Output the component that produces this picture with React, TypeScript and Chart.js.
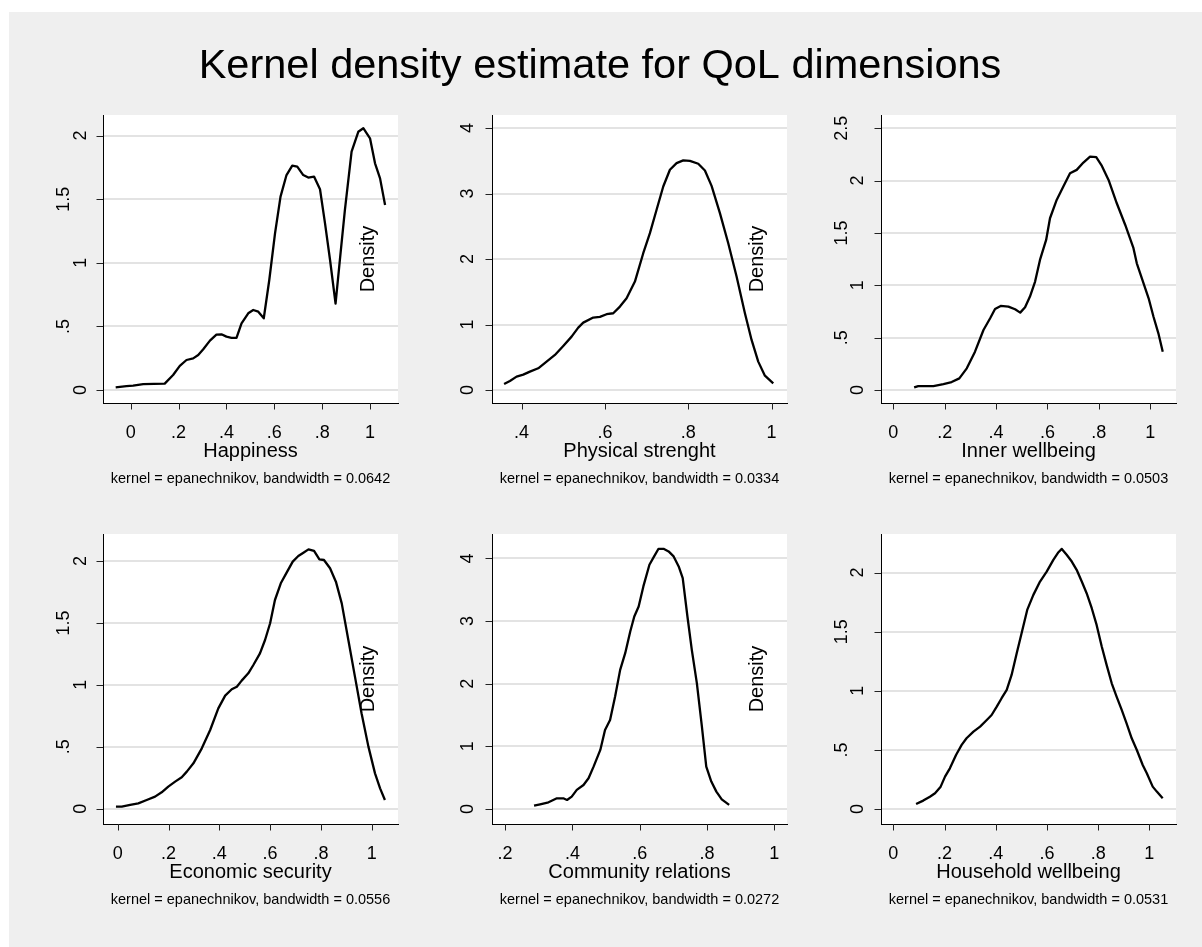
import React, { useEffect, useRef } from "react";
import { Chart, registerables } from "chart.js";

Chart.register(...registerables);

// ---------------- DATA ----------------
const happinessX = [-0.063, -0.018, 0.01, 0.052, 0.142, 0.177, 0.205, 0.233, 0.261, 0.282, 0.303, 0.331, 0.358, 0.379, 0.4, 0.421, 0.442, 0.463, 0.491, 0.512, 0.533, 0.556, 0.579, 0.603, 0.626, 0.651, 0.675, 0.696, 0.721, 0.742, 0.766, 0.791, 0.812, 0.833, 0.856, 0.874, 0.895, 0.923, 0.951, 0.972, 1.0, 1.021, 1.042, 1.063];
const happinessY = [0.021, 0.031, 0.034, 0.047, 0.05, 0.118, 0.19, 0.236, 0.249, 0.275, 0.32, 0.388, 0.435, 0.438, 0.42, 0.41, 0.41, 0.524, 0.603, 0.629, 0.616, 0.564, 0.865, 1.232, 1.52, 1.69, 1.764, 1.756, 1.69, 1.67, 1.678, 1.578, 1.31, 1.022, 0.68, 1.022, 1.415, 1.874, 2.03, 2.058, 1.979, 1.782, 1.664, 1.455];

const physicalX = [0.358, 0.372, 0.388, 0.404, 0.42, 0.44, 0.46, 0.48, 0.5, 0.52, 0.536, 0.548, 0.572, 0.588, 0.604, 0.62, 0.636, 0.652, 0.672, 0.692, 0.708, 0.724, 0.74, 0.756, 0.772, 0.788, 0.804, 0.824, 0.84, 0.856, 0.876, 0.896, 0.916, 0.936, 0.952, 0.968, 0.984, 1.004];
const physicalY = [0.092, 0.138, 0.204, 0.234, 0.28, 0.331, 0.433, 0.535, 0.673, 0.815, 0.953, 1.029, 1.106, 1.116, 1.157, 1.172, 1.274, 1.401, 1.656, 2.089, 2.395, 2.752, 3.108, 3.363, 3.465, 3.506, 3.5, 3.455, 3.353, 3.118, 2.701, 2.242, 1.732, 1.172, 0.764, 0.433, 0.219, 0.102];

const innerX = [0.081, 0.097, 0.156, 0.195, 0.227, 0.257, 0.286, 0.318, 0.351, 0.377, 0.396, 0.418, 0.448, 0.474, 0.494, 0.513, 0.532, 0.552, 0.571, 0.595, 0.61, 0.636, 0.662, 0.688, 0.714, 0.74, 0.766, 0.79, 0.812, 0.838, 0.87, 0.903, 0.935, 0.948, 0.994, 1.013, 1.032, 1.049];
const innerY = [0.025, 0.038, 0.038, 0.057, 0.076, 0.111, 0.207, 0.366, 0.573, 0.685, 0.774, 0.803, 0.796, 0.771, 0.739, 0.79, 0.892, 1.035, 1.242, 1.433, 1.64, 1.815, 1.943, 2.07, 2.102, 2.172, 2.229, 2.223, 2.14, 2.006, 1.783, 1.576, 1.354, 1.21, 0.876, 0.7, 0.541, 0.366];

const economicX = [-0.007, 0.016, 0.049, 0.081, 0.114, 0.147, 0.173, 0.199, 0.226, 0.252, 0.272, 0.298, 0.331, 0.364, 0.396, 0.423, 0.449, 0.469, 0.488, 0.514, 0.534, 0.56, 0.58, 0.6, 0.619, 0.642, 0.665, 0.689, 0.711, 0.731, 0.751, 0.773, 0.794, 0.812, 0.836, 0.859, 0.882, 0.908, 0.934, 0.96, 0.987, 1.013, 1.033, 1.052];
const economicY = [0.016, 0.016, 0.03, 0.043, 0.07, 0.097, 0.132, 0.178, 0.218, 0.253, 0.299, 0.366, 0.487, 0.635, 0.81, 0.913, 0.964, 0.985, 1.034, 1.093, 1.16, 1.254, 1.362, 1.497, 1.685, 1.82, 1.906, 1.995, 2.04, 2.067, 2.094, 2.081, 2.013, 2.008, 1.941, 1.833, 1.658, 1.362, 1.066, 0.77, 0.501, 0.285, 0.164, 0.07];

const communityX = [0.286, 0.304, 0.329, 0.354, 0.373, 0.384, 0.398, 0.413, 0.433, 0.448, 0.463, 0.483, 0.497, 0.512, 0.527, 0.542, 0.557, 0.572, 0.584, 0.597, 0.611, 0.629, 0.643, 0.656, 0.671, 0.686, 0.701, 0.716, 0.728, 0.742, 0.755, 0.77, 0.785, 0.798, 0.813, 0.828, 0.844, 0.866];
const communityY = [0.053, 0.075, 0.107, 0.17, 0.17, 0.144, 0.197, 0.304, 0.383, 0.49, 0.676, 0.943, 1.262, 1.422, 1.795, 2.221, 2.487, 2.834, 3.073, 3.233, 3.553, 3.899, 4.032, 4.154, 4.154, 4.112, 4.032, 3.872, 3.686, 3.073, 2.541, 2.008, 1.316, 0.676, 0.437, 0.277, 0.154, 0.064];

const householdX = [0.089, 0.117, 0.143, 0.163, 0.185, 0.202, 0.221, 0.245, 0.267, 0.286, 0.313, 0.339, 0.365, 0.384, 0.404, 0.423, 0.443, 0.462, 0.482, 0.501, 0.523, 0.547, 0.573, 0.599, 0.625, 0.645, 0.658, 0.677, 0.697, 0.716, 0.736, 0.755, 0.775, 0.794, 0.814, 0.833, 0.853, 0.872, 0.892, 0.911, 0.931, 0.951, 0.974, 0.99, 1.013, 1.029, 1.052];
const householdY = [0.042, 0.071, 0.104, 0.133, 0.189, 0.274, 0.344, 0.457, 0.542, 0.598, 0.654, 0.697, 0.753, 0.795, 0.866, 0.937, 1.007, 1.134, 1.317, 1.487, 1.684, 1.811, 1.924, 2.008, 2.107, 2.172, 2.2, 2.15, 2.093, 2.023, 1.924, 1.825, 1.698, 1.557, 1.374, 1.219, 1.063, 0.951, 0.838, 0.725, 0.598, 0.499, 0.372, 0.302, 0.189, 0.147, 0.09];

const xTicksFull = [0, 0.2, 0.4, 0.6, 0.8, 1];
const xTicksFrom4 = [0.4, 0.6, 0.8, 1];
const xTicksFrom2 = [0.2, 0.4, 0.6, 0.8, 1];
const yTicksHalf = [0, 0.5, 1, 1.5, 2];
const yTicksHalf25 = [0, 0.5, 1, 1.5, 2, 2.5];
const yTicksInt = [0, 1, 2, 3, 4];

const panelTitles = ["Happiness", "Physical strenght", "Inner wellbeing", "Economic security", "Community relations", "Household wellbeing"];
const bandwidths = ["0.0642", "0.0334", "0.0503", "0.0556", "0.0272", "0.0531"];
const chartTitle = "Kernel density estimate for QoL dimensions";
const yAxisTitle = "Density";
const kernelName = "epanechnikov";

// ---------------- LAYOUT / STYLE ----------------
const W = 1202;
const H = 947;
const FONT = '"Liberation Sans", Arial, Helvetica, sans-serif';
const GRID = "#E3E3E3";
const BG = "#EFEFEF";

type Panel = {
  title: string;
  bw: string;
  xs: number[];
  ys: number[];
  xTicks: number[];
  yTicks: number[];
  xMin: number; xMax: number; yMin: number; yMax: number;
  rect: [number, number, number, number];
  density: boolean;
  intGap: number;
};

const panels: Panel[] = [
  { title: panelTitles[0], bw: bandwidths[0], xs: happinessX, ys: happinessY, xTicks: xTicksFull, yTicks: yTicksHalf, xMin: -0.116, xMax: 1.117, yMin: -0.102, yMax: 2.162, rect: [103, 115, 398, 403], density: true, intGap: 17 },
  { title: panelTitles[1], bw: bandwidths[1], xs: physicalX, ys: physicalY, xTicks: xTicksFrom4, yTicks: yTicksInt, xMin: 0.329, xMax: 1.037, yMin: -0.199, yMax: 4.2, rect: [492, 115, 787, 403], density: true, intGap: 18.7 },
  { title: panelTitles[2], bw: bandwidths[2], xs: innerX, ys: innerY, xTicks: xTicksFull, yTicks: yTicksHalf25, xMin: -0.048, xMax: 1.1006, yMin: -0.124, yMax: 2.626, rect: [881, 115, 1176, 403], density: false, intGap: 18 },
  { title: panelTitles[3], bw: bandwidths[3], xs: economicX, ys: economicY, xTicks: xTicksFull, yTicks: yTicksHalf, xMin: -0.058, xMax: 1.1035, yMin: -0.124, yMax: 2.218, rect: [103, 534, 398, 824], density: true, intGap: 17 },
  { title: panelTitles[4], bw: bandwidths[4], xs: communityX, ys: communityY, xTicks: xTicksFrom2, yTicks: yTicksInt, xMin: 0.161, xMax: 1.038, yMin: -0.24, yMax: 4.39, rect: [492, 534, 787, 824], density: true, intGap: 18.7 },
  { title: panelTitles[5], bw: bandwidths[5], xs: householdX, ys: householdY, xTicks: xTicksFull, yTicks: yTicksHalf, xMin: -0.048, xMax: 1.104, yMin: -0.127, yMax: 2.326, rect: [881, 534, 1176, 824], density: false, intGap: 18 },
];

function fmt(v: number): string {
  if (v === 0) return "0";
  const s = String(v);
  if (s.startsWith("0.")) return s.slice(1);
  return s;
}

function PanelChart({ p, first }: { p: Panel; first: boolean }) {
  const ref = useRef<HTMLCanvasElement | null>(null);
  useEffect(() => {
    const canvas = ref.current;
    if (!canvas) return;
    const [L, T, R, B] = p.rect;
    const deco = {
      id: "panelDeco",
      beforeDraw(chart: any) {
        const { ctx, chartArea: a } = chart;
        ctx.save();
        ctx.fillStyle = "#ffffff";
        ctx.fillRect(a.left, a.top, a.right - a.left, a.bottom - a.top);
        ctx.restore();
      },
      afterDraw(chart: any) {
        const { ctx, chartArea: a } = chart;
        const xs = chart.scales.x;
        const ys = chart.scales.y;
        ctx.save();
        // tick marks
        ctx.strokeStyle = "#222";
        ctx.lineWidth = 1;
        ctx.beginPath();
        for (const v of p.yTicks) {
          const y = Math.round(ys.getPixelForValue(v)) + 0.5;
          ctx.moveTo(a.left - 6.5, y);
          ctx.lineTo(a.left, y);
        }
        for (const v of p.xTicks) {
          const x = Math.round(xs.getPixelForValue(v)) + 0.5;
          ctx.moveTo(x, a.bottom);
          ctx.lineTo(x, a.bottom + 6.5);
        }
        ctx.stroke();

        ctx.fillStyle = "#000";
        // y tick labels (rotated)
        ctx.font = `18px ${FONT}`;
        ctx.textAlign = "center";
        ctx.textBaseline = "alphabetic";
        for (const v of p.yTicks) {
          const lab = fmt(v);
          const gap = lab.includes(".") ? 34 : p.intGap;
          ctx.save();
          ctx.translate(a.left - gap, ys.getPixelForValue(v));
          ctx.rotate(-Math.PI / 2);
          ctx.fillText(lab, 0, 0);
          ctx.restore();
        }
        // x tick labels
        for (const v of p.xTicks) {
          ctx.fillText(fmt(v), xs.getPixelForValue(v), a.bottom + 35);
        }
        const cx = (a.left + a.right) / 2;
        ctx.font = `20px ${FONT}`;
        ctx.fillText(p.title, cx, a.bottom + 54);
        ctx.font = `14.5px ${FONT}`;
        ctx.fillText(`kernel = ${kernelName}, bandwidth = ${p.bw}`, cx, a.bottom + 80);
        if (p.density) {
          ctx.font = `20px ${FONT}`;
          ctx.save();
          ctx.translate(a.right - 24, (a.top + a.bottom) / 2);
          ctx.rotate(-Math.PI / 2);
          ctx.fillText(yAxisTitle, 0, 0);
          ctx.restore();
        }
        if (first) {
          ctx.font = `41.5px ${FONT}`;
          ctx.textAlign = "center";
          ctx.fillText(chartTitle, 600, 78);
        }
        ctx.restore();
      },
    };
    const chart = new Chart(canvas, {
      type: "scatter",
      data: {
        datasets: [
          {
            data: p.xs.map((x, i) => ({ x, y: p.ys[i] })),
            showLine: true,
            borderColor: "#000",
            borderWidth: 2.3,
            pointRadius: 0,
            tension: 0,
            fill: false,
            borderJoinStyle: "round",
          },
        ],
      },
      options: {
        animation: false,
        responsive: false,
        devicePixelRatio: 1,
        layout: { padding: { left: L, top: T, right: W - R, bottom: H - B }, autoPadding: false },
        plugins: { legend: { display: false }, tooltip: { enabled: false } },
        events: [],
        scales: {
          x: {
            type: "linear",
            min: p.xMin,
            max: p.xMax,
            afterBuildTicks: (s: any) => { s.ticks = p.xTicks.map((v) => ({ value: v })); },
            ticks: { display: false },
            grid: { display: false, drawTicks: false },
            border: { display: true, color: "#000", width: 1 },
          },
          y: {
            type: "linear",
            min: p.yMin,
            max: p.yMax,
            afterBuildTicks: (s: any) => { s.ticks = p.yTicks.map((v) => ({ value: v })); },
            ticks: { display: false },
            grid: { display: true, drawTicks: false, color: GRID, lineWidth: 2 },
            border: { display: true, color: "#000", width: 1 },
          },
        },
      },
      plugins: [deco],
    } as any);
    return () => chart.destroy();
  }, [p, first]);
  return (
    <canvas
      ref={ref}
      width={W}
      height={H}
      style={{ position: "absolute", left: 0, top: 0, width: W, height: H }}
    />
  );
}

export default function App() {
  return (
    <div style={{ position: "absolute", left: 0, top: 0, width: W, height: H, background: "#fff", overflow: "hidden" }}>
      <div style={{ position: "absolute", left: 9, top: 12, width: W - 9, height: H - 12, background: BG }} />
      {panels.map((p, i) => (
        <PanelChart key={i} p={p} first={i === 0} />
      ))}
    </div>
  );
}
